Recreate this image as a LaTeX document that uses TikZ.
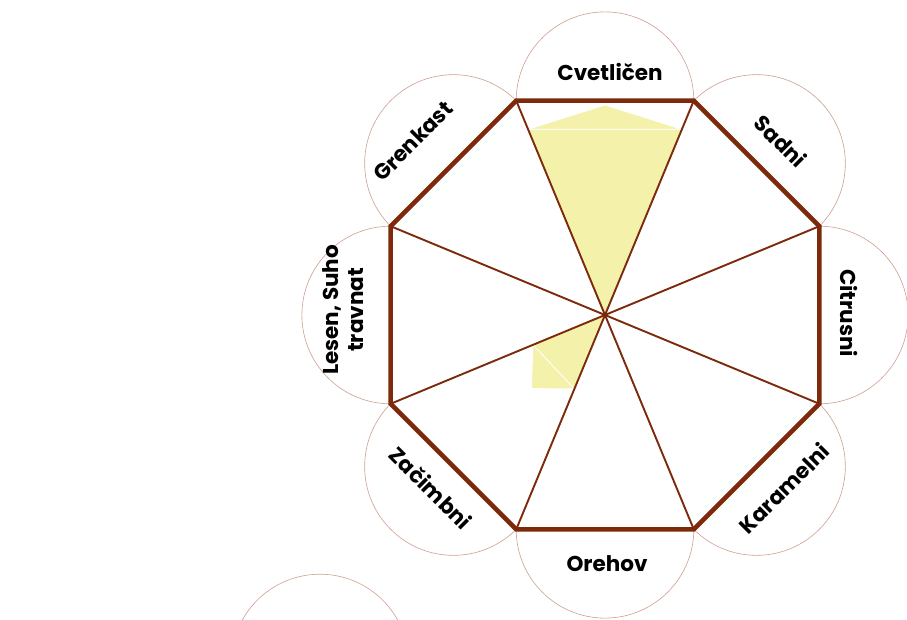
\documentclass[tikz,border=0pt]{standalone}
\usepackage{fontspec}
\newfontfamily\wheelfont{Poppins}
\usepackage{tikz}
\usetikzlibrary{calc}
\definecolor{wheelbrown}{RGB}{125,42,12}
\definecolor{rimpink}{RGB}{205,160,145}
\definecolor{fillyellow}{RGB}{243,241,170}
\newcommand{\rout}{232}
\newcommand{\rmid}{214.3}
\newcommand{\rpetal}{88.8}
\tikzset{
    petal/.style={draw=rimpink, fill=white, line width=0.6pt},
    rim/.style={draw=wheelbrown, line width=4.5pt, line join=miter},
    spoke/.style={wheelbrown, line width=1.9pt},
    score/.style={fill=fillyellow, draw=white, line width=0.8pt},
    flavour/.style={font=\wheelfont\bfseries\fontsize{21.5}{25}\selectfont, align=center, inner sep=0pt}
}

\begin{document}
\begin{tikzpicture}[x=1pt,y=1pt]
    \useasboundingbox (-605,-304) rectangle (302,315);
    \clip (-605,-304) rectangle (302,315);

    \coordinate (c) at (0,0);
    \foreach \k in {0,...,7}
        \coordinate (v\k) at ({22.5+45*\k}:\rout);

    % petals behind the octagon
    \foreach \k in {0,...,7}
        \draw[petal] ({45*\k}:\rmid) circle (\rpetal);
    \draw[petal] (-285,-348) circle (\rpetal);

    \fill[white] (v0) -- (v1) -- (v2) -- (v3) -- (v4) -- (v5) -- (v6) -- (v7) -- cycle;

    % scores
    \path[score] (c) -- (112.5:201) -- (67.5:201) -- cycle;
    \path[score] (112.5:201) -- (90:210) -- (67.5:201) -- cycle;
    \path[score] (c) -- (202.5:78) -- (247.5:80) -- cycle;
    \path[score] (202.5:78) -- (225:104) -- (247.5:80) -- cycle;

    \foreach \k in {0,...,7}
        \draw[spoke] (c) -- (v\k);
    \draw[rim] (v0) -- (v1) -- (v2) -- (v3) -- (v4) -- (v5) -- (v6) -- (v7) -- cycle;

    % labels
    \node[flavour] (cvet) at (5,243) {Cvetličen};
    \node[flavour, rotate=-45] (sadni) at (176,174) {Sadni};
    \node[flavour, rotate=-90] (citr) at (244,2) {Citrusni};
    \node[flavour, rotate=45] (karam) at (179,-173) {Karamelni};
    \node[flavour] (oreh) at (2,-249) {Orehov};
    \node[flavour, rotate=-45] (zac) at (-174,-173) {Začimbni};
    \node[flavour, rotate=90] (lesen) at (-262,5) {Lesen, Suho\\travnat};
    \node[flavour, rotate=45] (grenk) at (-192,174) {Grenkast};
\end{tikzpicture}
\end{document}
